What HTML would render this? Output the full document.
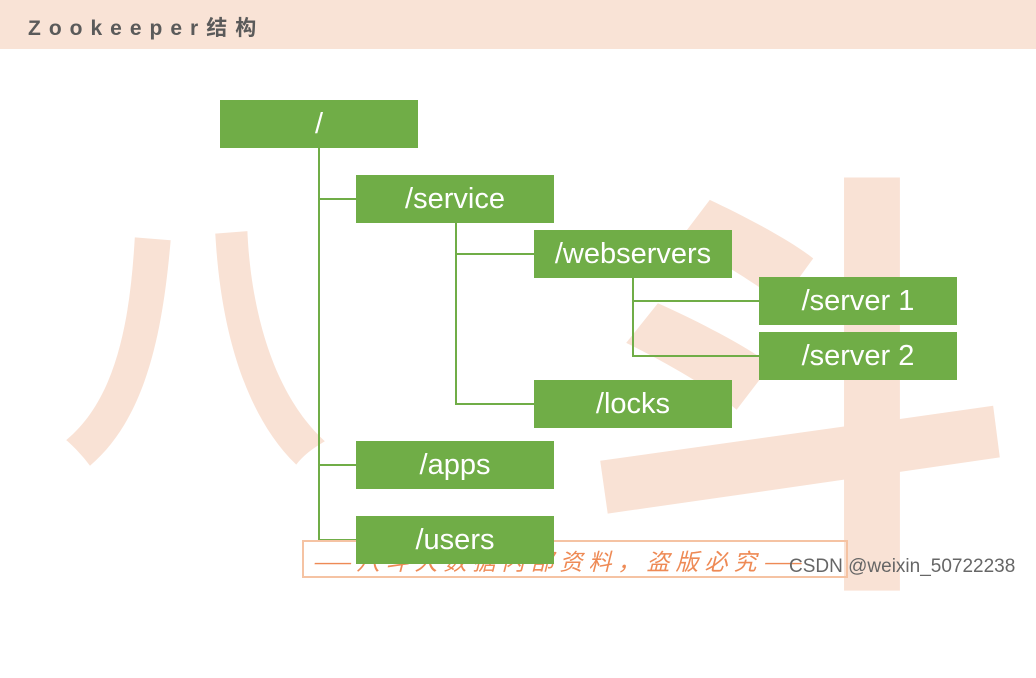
<!DOCTYPE html>
<html><head><meta charset="utf-8"><style>
body{margin:0;width:1036px;height:587px;overflow:hidden;background:#fff;position:relative;font-family:"Liberation Sans","Noto Sans CJK SC",sans-serif}
.hdr{position:absolute;left:0;top:0;width:1036px;height:49px;background:#f9e3d6}
.hdr span{position:absolute;left:28px;top:12px;font-size:21px;font-weight:bold;color:#5a5a5a;letter-spacing:8px}
.wm{position:absolute;color:#f9e2d5;font-family:"Noto Sans CJK SC",sans-serif;font-weight:bold;line-height:1}
.b{position:absolute;background:#70ad47;color:#fff;font-size:29px;display:flex;align-items:center;justify-content:center;width:198px;height:48px}
.l{position:absolute;background:#70ad47}
</style></head><body>
<div class="hdr"><span>Zookeeper结构</span></div>
<div class="wm" style="left:60px;top:190px;font-size:270px">八</div>
<div class="wm" style="left:580px;top:140px;font-size:440px">斗</div>
<div class="l" style="left:318px;top:148px;width:2px;height:393px"></div>
<div class="l" style="left:318px;top:198px;width:40px;height:2px"></div>
<div class="l" style="left:318px;top:464px;width:40px;height:2px"></div>
<div class="l" style="left:318px;top:539px;width:40px;height:2px"></div>
<div class="l" style="left:455px;top:222px;width:2px;height:183px"></div>
<div class="l" style="left:455px;top:253px;width:80px;height:2px"></div>
<div class="l" style="left:455px;top:403px;width:80px;height:2px"></div>
<div class="l" style="left:632px;top:277px;width:2px;height:80px"></div>
<div class="l" style="left:632px;top:300px;width:128px;height:2px"></div>
<div class="l" style="left:632px;top:355px;width:128px;height:2px"></div>
<div class="b" style="left:220px;top:100px">/</div>
<div class="b" style="left:356px;top:175px">/service</div>
<div class="b" style="left:534px;top:230px">/webservers</div>
<div class="b" style="left:759px;top:277px">/server 1</div>
<div class="b" style="left:759px;top:332px">/server 2</div>
<div class="b" style="left:534px;top:380px">/locks</div>
<div class="b" style="left:356px;top:441px">/apps</div>
<div style="position:absolute;left:302px;top:540px;width:542px;height:34px;border:2px solid #f5c3a3;"></div>
<div style="position:absolute;left:312px;top:543px;font-size:23px;color:#ee8a55;font-style:italic;letter-spacing:6px;font-family:'Noto Sans CJK SC',sans-serif">——八斗大数据内部资料，盗版必究——</div>
<div class="b" style="left:356px;top:516px">/users</div>
<div style="position:absolute;left:789px;top:556px;font-size:19px;color:#666">CSDN @weixin_50722238</div>
</body></html>
